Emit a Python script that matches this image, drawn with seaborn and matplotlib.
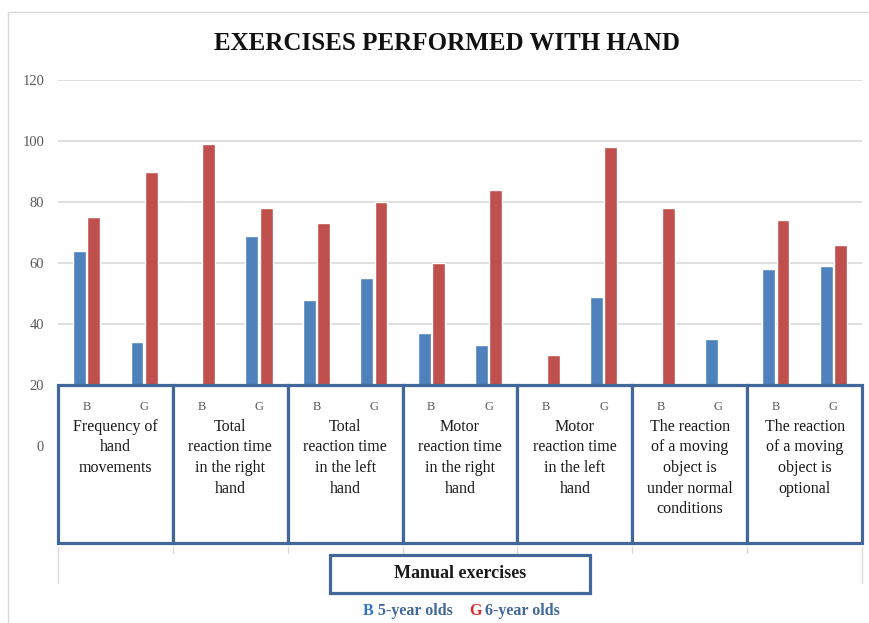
import numpy as np
import pandas as pd
import matplotlib
matplotlib.use("Agg")
import matplotlib.pyplot as plt
from matplotlib.patches import Rectangle
from matplotlib.lines import Line2D
import seaborn as sns

# ---- data -------------------------------------------------------------
exercises = [
    "Frequency of\nhand\nmovements",
    "Total\nreaction time\nin the right\nhand",
    "Total\nreaction time\nin the left\nhand",
    "Motor\nreaction time\nin the right\nhand",
    "Motor\nreaction time\nin the left\nhand",
    "The reaction\nof a moving\nobject is\nunder normal\nconditions",
    "The reaction\nof a moving\nobject is\noptional",
]
sexes = ["B", "G"]
ages = ["5-year olds", "6-year olds"]
# one value per (exercise, sex) slot, in exercise order B, G
values_5yr = [64, 34, np.nan, 69, 48, 55, 37, 33, np.nan, 49, np.nan, 35, 58, 59]
values_6yr = [75, 90, 99, 78, 73, 80, 60, 84, 30, 98, 78, np.nan, 74, 66]
y_ticks = [0, 20, 40, 60, 80, 100, 120]

slots = [f"{i}-{s}" for i in range(len(exercises)) for s in sexes]
df = pd.DataFrame({
    "slot": slots * 2,
    "value": values_5yr + values_6yr,
    "age": [ages[0]] * len(slots) + [ages[1]] * len(slots),
}).dropna()

# ---- style ------------------------------------------------------------
sns.set_style("white")
plt.rcParams["font.family"] = ["Liberation Serif", "DejaVu Serif"]

W, H = 869, 623
fig = plt.figure(figsize=(W / 100, H / 100), dpi=100)
ax = fig.add_axes([58 / W, 1 - 446 / H, 804 / W, 366 / H])

blue, red = "#4F81BD", "#C0504D"
sns.barplot(data=df, x="slot", y="value", hue="age", order=slots,
            hue_order=ages, palette=[blue, red], saturation=1,
            width=0.5, gap=0.1, errorbar=None, legend=False, ax=ax, zorder=2)

ax.set_xlim(-0.5, len(slots) - 0.5)
ax.set_ylim(0, 120)
ax.set_yticks(y_ticks)
ax.set_yticklabels([str(t) for t in y_ticks], color="#595959", fontsize=10.5)
ax.tick_params(axis="y", length=0, pad=10)
ax.set_xticks([])
ax.set_xlabel("")
ax.set_ylabel("")
ax.yaxis.grid(True, color="#D9D9D9", linewidth=1.2)
ax.set_axisbelow(True)
for sp in ax.spines.values():
    sp.set_visible(False)

# ---- category boxes over the lower part of the plot ------------------
box_color = "#41679B"
box_top, box_bottom = 20, -31.8
for i, label in enumerate(exercises):
    x0 = 2 * i - 0.5
    ax.add_patch(Rectangle((x0, box_bottom), 2, box_top - box_bottom,
                           facecolor="white", edgecolor=box_color,
                           linewidth=2.3, zorder=5, clip_on=False))
    for j, s in enumerate(sexes):
        ax.text(2 * i + j, 12.9, s, ha="center", va="center",
                fontsize=9, color="#595959", zorder=6, clip_on=False)
    ax.text(2 * i + 0.5, 8.9, label, ha="center", va="top", fontsize=11.5,
            color="#1a1a1a", linespacing=1.38, zorder=6, clip_on=False)

# small axis ticks beneath the boxes
for k in range(len(exercises) + 1):
    xb = 2 * k - 0.5
    y_end = -44.9 if k in (0, len(exercises)) else -35.0
    ax.add_line(Line2D([xb, xb], [-33.1, y_end], color="#D9D9D9",
                       linewidth=1, clip_on=False, zorder=1))

# ---- chart frame --------------------------------------------------------
fig.add_artist(Line2D([8 / W, 8 / W], [1 - 12 / H, 0], color="#D9D9D9", lw=1))
fig.add_artist(Line2D([8 / W, 1], [1 - 12 / H, 1 - 12 / H], color="#D9D9D9", lw=1))

# ---- title --------------------------------------------------------------
fig.text(447 / W, 1 - 43 / H, "EXERCISES PERFORMED WITH HAND", ha="center",
         va="center", fontsize=18, fontweight="bold", color="#111111")

# ---- axis title box -----------------------------------------------------
fig.add_artist(Rectangle((330 / W, 1 - 593 / H), 260 / W, 38 / H,
                         transform=fig.transFigure, facecolor="white",
                         edgecolor=box_color, linewidth=2.3))
fig.text(460 / W, 1 - 574 / H, "Manual exercises", ha="center", va="center",
         fontsize=13, fontweight="bold", color="#1a1a1a")

# ---- legend line --------------------------------------------------------
leg_y = 1 - 611 / H
fig.text(363 / W, leg_y, "B", ha="left", va="center", fontsize=11.5,
         fontweight="bold", color="#2E75C8")
fig.text(378 / W, leg_y, "5-year olds", ha="left", va="center", fontsize=11.5,
         fontweight="bold", color="#41679B")
fig.text(469 / W, leg_y, "G", ha="left", va="center", fontsize=11.5,
         fontweight="bold", color="#E02B2B")
fig.text(485 / W, leg_y, "6-year olds", ha="left", va="center", fontsize=11.5,
         fontweight="bold", color="#41679B")

fig.savefig("out.png", dpi=100)
